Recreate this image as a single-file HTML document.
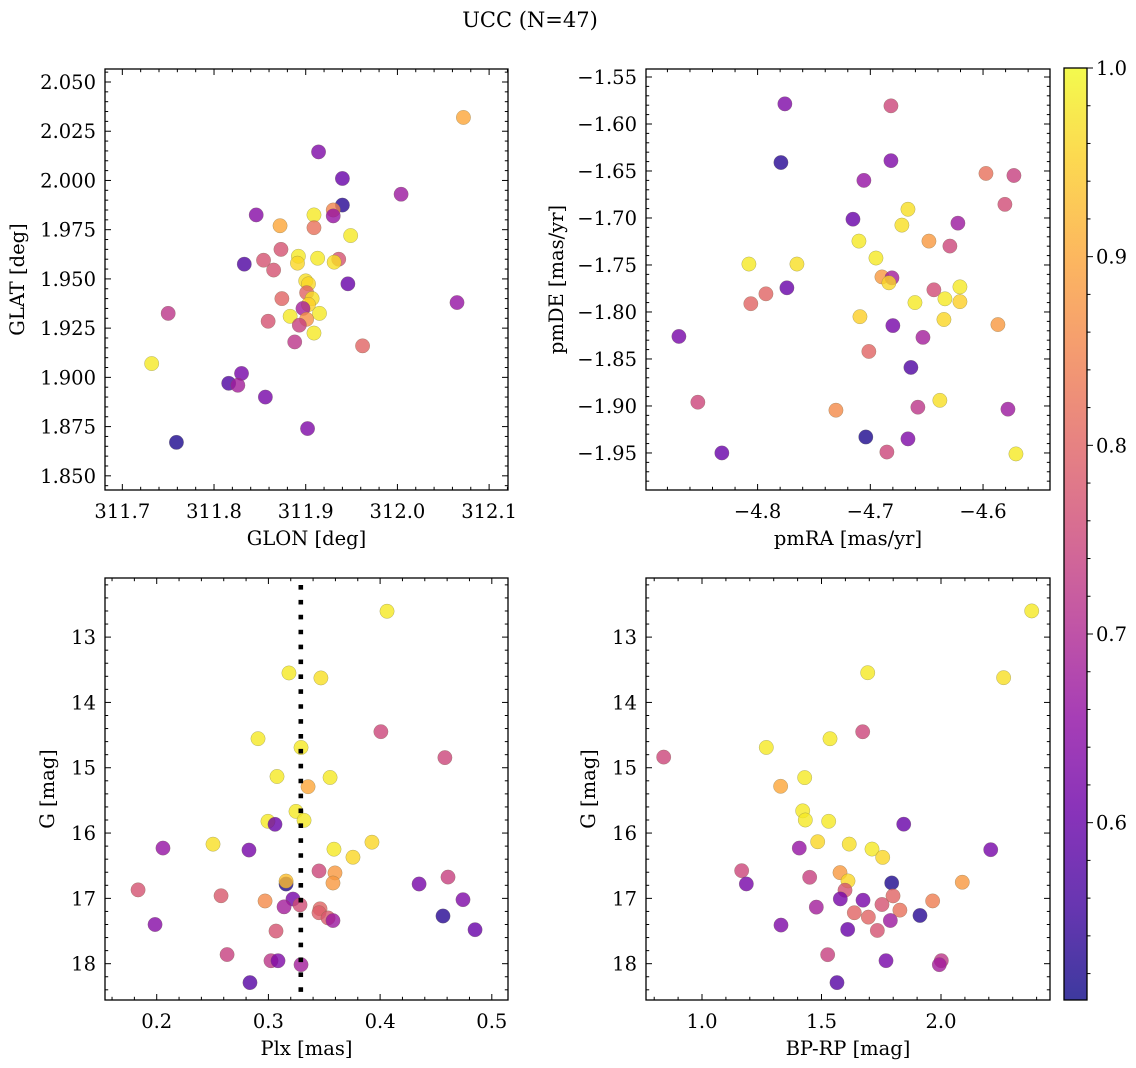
<!DOCTYPE html>
<html>
<head>
<meta charset="utf-8">
<style>
  html, body { margin: 0; padding: 0; background: #fff; }
  svg { display: block; font-family: "DejaVu Serif", "Liberation Serif", serif; }
</style>
</head>
<body>
<svg id="fig" width="1136" height="1068" viewBox="0 0 1136 1068" xmlns="http://www.w3.org/2000/svg">
  <defs>
    <linearGradient id="plasmaGrad" x1="0" y1="1" x2="0" y2="0"></linearGradient>
  </defs>
  <text x="530" y="27" text-anchor="middle" font-size="21">UCC (N=47)</text>
  <g id="panels"></g>
  <g id="cbar"></g>
</svg>
<script>
// ---------- Panel 1: GLON vs GLAT ----------
const glon = [312.072,311.914,311.940,312.004,311.940,311.930,311.930,311.846,311.909,311.872,311.909,311.949,311.873,311.892,311.913,311.936,311.854,311.833,311.891,311.931,311.865,311.946,311.900,311.903,312.065,311.901,311.874,311.907,311.903,311.897,311.750,311.883,311.915,311.901,311.859,311.893,311.909,311.962,311.888,311.732,311.830,311.816,311.826,311.856,311.902,311.759];
const glat = [2.032,2.0145,2.001,1.993,1.9875,1.985,1.982,1.9825,1.9825,1.977,1.976,1.972,1.965,1.9615,1.9605,1.960,1.9595,1.9575,1.958,1.9585,1.9545,1.9475,1.949,1.9475,1.938,1.943,1.940,1.940,1.937,1.935,1.9325,1.931,1.9325,1.9295,1.9285,1.9265,1.9225,1.916,1.918,1.907,1.902,1.897,1.896,1.890,1.874,1.867];
const prob1 = [0.90,0.63,0.60,0.67,0.53,0.85,0.66,0.64,0.98,0.90,0.82,0.98,0.77,0.98,0.98,0.77,0.77,0.57,0.96,0.97,0.77,0.60,0.97,0.96,0.66,0.80,0.80,0.97,0.95,0.68,0.72,0.98,0.98,0.87,0.77,0.74,0.98,0.80,0.72,0.98,0.62,0.57,0.68,0.62,0.63,0.52];
const p1XTicks = [311.7,311.8,311.9,312.0,312.1];
const p1YTicks = [1.850,1.875,1.900,1.925,1.950,1.975,2.000,2.025,2.050];

// ---------- Panel 2: pmRA vs pmDE ----------
const pmra = [-4.7758,-4.6817,-4.7793,-4.6817,-4.5974,-4.5726,-4.7057,-4.5806,-4.6666,-4.7154,-4.6223,-4.672,-4.7101,-4.648,-4.6294,-4.695,-4.8077,-4.7651,-4.6897,-4.6808,-4.6835,-4.6205,-4.774,-4.6436,-4.7926,-4.6338,-4.6205,-4.806,-4.6604,-4.7092,-4.6347,-4.5868,-4.68,-4.8698,-4.6533,-4.7013,-4.664,-4.853,-4.6383,-4.7305,-4.6578,-4.5779,-4.704,-4.6666,-4.8317,-4.6853,-4.5708];
const pmde = [-1.5786,-1.5807,-1.641,-1.639,-1.6526,-1.6548,-1.660,-1.6855,-1.6907,-1.7013,-1.7055,-1.7076,-1.7246,-1.7246,-1.7299,-1.7426,-1.749,-1.749,-1.7627,-1.7637,-1.769,-1.7733,-1.7743,-1.7764,-1.7807,-1.786,-1.789,-1.7912,-1.790,-1.805,-1.808,-1.8134,-1.8145,-1.826,-1.827,-1.842,-1.859,-1.896,-1.894,-1.9045,-1.9013,-1.9034,-1.933,-1.935,-1.950,-1.949,-1.951];
const prob2 = [0.63,0.75,0.53,0.63,0.82,0.74,0.66,0.76,0.97,0.60,0.67,0.97,0.98,0.88,0.75,0.98,0.98,0.97,0.88,0.68,0.96,0.98,0.60,0.76,0.80,0.98,0.95,0.80,0.98,0.95,0.96,0.88,0.62,0.62,0.68,0.80,0.57,0.75,0.97,0.86,0.72,0.67,0.52,0.63,0.60,0.75,0.98];
const p2XTicks = [-4.8,-4.7,-4.6];
const p2YTicks = [-1.95,-1.90,-1.85,-1.80,-1.75,-1.70,-1.65,-1.60,-1.55];

// ---------- Panel 3: Plx vs G ----------
const plx = [0.4062,0.3184,0.347,0.4007,0.2907,0.3292,0.458,0.3077,0.3552,0.3355,0.3247,0.2996,0.3059,0.3319,0.2056,0.2504,0.2826,0.3587,0.3927,0.3757,0.3453,0.3596,0.4608,0.3578,0.3158,0.3158,0.4349,0.1833,0.2576,0.297,0.4742,0.322,0.3283,0.314,0.3462,0.3453,0.3534,0.3578,0.4563,0.1985,0.485,0.3068,0.263,0.3023,0.3086,0.3292,0.2835];
const gmag3 = [12.604,13.549,13.625,14.448,14.555,14.69,14.845,15.134,15.149,15.29,15.668,15.82,15.866,15.805,16.23,16.17,16.26,16.247,16.14,16.37,16.58,16.61,16.674,16.765,16.78,16.735,16.78,16.87,16.96,17.04,17.02,17.01,17.1,17.13,17.16,17.22,17.3,17.34,17.27,17.4,17.48,17.5,17.86,17.955,17.955,18.015,18.29];
const prob3 = [0.98,0.98,0.97,0.75,0.98,0.98,0.75,0.98,0.98,0.90,0.98,0.98,0.60,0.98,0.66,0.97,0.62,0.98,0.96,0.96,0.75,0.88,0.74,0.88,0.52,0.93,0.62,0.77,0.78,0.86,0.63,0.62,0.76,0.68,0.80,0.79,0.78,0.67,0.53,0.64,0.60,0.77,0.74,0.72,0.63,0.68,0.58];
const plxMean = [0.329];
const p3XTicks = [0.2,0.3,0.4,0.5];
const gTicks = [13,14,15,16,17,18];

// ---------- Panel 4: BP-RP vs G ----------
const bprp = [2.3795,1.6933,2.262,1.6723,1.269,1.5356,0.8397,1.4296,1.329,1.4213,1.4322,1.53,1.844,1.407,1.484,1.616,1.7113,1.756,2.208,1.166,1.5774,1.4505,1.6109,1.7937,2.089,1.1855,1.5983,1.7992,1.5787,1.6737,1.965,1.753,1.4783,1.828,1.6373,1.696,1.788,1.912,1.3305,1.6095,1.7336,1.5258,1.7699,2.0013,1.9929,1.5648];
const gmag4 = [12.599,13.545,13.621,14.449,14.689,14.556,14.837,15.151,15.284,15.66,15.80,15.82,15.864,16.23,16.133,16.169,16.245,16.372,16.255,16.576,16.606,16.677,16.733,16.764,16.753,16.779,16.875,16.962,17.008,17.028,17.039,17.094,17.134,17.18,17.22,17.287,17.339,17.262,17.409,17.476,17.491,17.862,17.954,17.954,18.015,18.29];
const prob4 = [0.98,0.98,0.97,0.75,0.98,0.98,0.75,0.98,0.90,0.98,0.98,0.98,0.60,0.66,0.96,0.97,0.98,0.96,0.62,0.75,0.88,0.74,0.96,0.52,0.88,0.62,0.77,0.80,0.62,0.62,0.84,0.77,0.68,0.82,0.80,0.80,0.67,0.53,0.63,0.60,0.77,0.74,0.62,0.72,0.68,0.58];
const p4XTicks = [1.0,1.5,2.0];

// ---------- Colorbar ----------
const cbarTicks = [0.6,0.7,0.8,0.9,1.0];
const cMin = [0.506];
const cMax = [1.0];

const FS = 19.5;
const SVGNS = "http://www.w3.org/2000/svg";
const plasmaStops = [[0,"#0d0887"],[0.1,"#41049d"],[0.2,"#6a00a8"],[0.3,"#8f0da4"],[0.4,"#b12a90"],[0.5,"#cc4778"],[0.6,"#e16462"],[0.7,"#f2844b"],[0.8,"#fca636"],[0.9,"#fcce25"],[1.0,"#f0f921"]];
function hex2rgb(h){return [parseInt(h.substr(1,2),16),parseInt(h.substr(3,2),16),parseInt(h.substr(5,2),16)];}
function plasma(t){
  t=Math.max(0,Math.min(1,t));
  for(let i=0;i<plasmaStops.length-1;i++){
    const [t0,c0]=plasmaStops[i],[t1,c1]=plasmaStops[i+1];
    if(t<=t1){const f=(t-t0)/(t1-t0);const a=hex2rgb(c0),b=hex2rgb(c1);
      return "rgb("+a.map((v,k)=>Math.round(v+(b[k]-v)*f)).join(",")+")";}
  }
  return plasmaStops[plasmaStops.length-1][1];
}
function colorOf(v){return plasma((v-cMin[0])/(cMax[0]-cMin[0]));}
function mk(tag,attrs,parent){const e=document.createElementNS(SVGNS,tag);for(const k in attrs)e.setAttribute(k,attrs[k]);parent.appendChild(e);return e;}
function fmt(v,d){const s=Math.abs(v).toFixed(d);return (v<-1e-12?"\u2212":"")+s;}

function drawPanel(p){
  const root=document.getElementById("panels");
  const g=mk("g",{},root);
  
  
  const sx=v=>p.L+(v-p.x0)/(p.x1-p.x0)*(p.R-p.L);
  const sy=v=>p.T+(v-p.y0)/(p.y1-p.y0)*(p.B-p.T);
  const clip=mk("clipPath",{id:"clip-"+p.name},g);
  mk("rect",{x:p.L,y:p.T,width:p.R-p.L,height:p.B-p.T},clip);
  const marks=mk("g",{"clip-path":"url(#clip-"+p.name+")"},g);
  for(let i=0;i<p.xs.length;i++){
    const c=mk("circle",{cx:sx(p.xs[i]),cy:sy(p.ys[i]),r:7.2,fill:colorOf(p.cs[i]),"fill-opacity":0.8,stroke:"#6b6b4a","stroke-opacity":0.5,"stroke-width":0.5},marks);
    
    
  }
  if(p.vline){
    const l=mk("line",{x1:sx(p.vline[0]),x2:sx(p.vline[0]),y1:p.T+7,y2:p.B,stroke:"#000","stroke-width":4.6,"stroke-dasharray":"4.6 10.3"},marks);
    
    
  }
  const tk=mk("g",{stroke:"#000","stroke-width":1},g);
  const xmin=Math.min(p.x0,p.x1),xmax=Math.max(p.x0,p.x1);
  const ymin=Math.min(p.y0,p.y1),ymax=Math.max(p.y0,p.y1);
  for(let k=Math.ceil(xmin/p.xMinor-1e-6);k*p.xMinor<=xmax+1e-9;k++){
    const v=k*p.xMinor,x=sx(v);
    const major=p.xTicks.some(t=>Math.abs(t-v)<p.xMinor/10);
    const len=major?6:3.2;
    mk("line",{x1:x,x2:x,y1:p.B,y2:p.B-len},tk);
    mk("line",{x1:x,x2:x,y1:p.T,y2:p.T+len},tk);
  }
  for(let k=Math.ceil(ymin/p.yMinor-1e-6);k*p.yMinor<=ymax+1e-9;k++){
    const v=k*p.yMinor,y=sy(v);
    const major=p.yTicks.some(t=>Math.abs(t-v)<p.yMinor/10);
    const len=major?6:3.2;
    mk("line",{x1:p.L,x2:p.L+len,y1:y,y2:y},tk);
    mk("line",{x1:p.R,x2:p.R-len,y1:y,y2:y},tk);
  }
  p.xTicks.forEach(t=>{
    const e=mk("text",{x:sx(t),y:p.B+28,"text-anchor":"middle","font-size":FS},g);
    e.textContent=fmt(t,p.xd);
    
    
  });
  p.yTicks.forEach(t=>{
    const e=mk("text",{x:p.L-9,y:sy(t)+7,"text-anchor":"end","font-size":FS},g);
    e.textContent=fmt(t,p.yd);
    
    
  });
  const fr=mk("rect",{x:p.L,y:p.T,width:p.R-p.L,height:p.B-p.T,fill:"none",stroke:"#000","stroke-width":1.3},g);
  
  
  const xl=mk("text",{x:(p.L+p.R)/2,y:p.B+55,"text-anchor":"middle","font-size":FS},g);
  xl.textContent=p.xlabel;
  
  
  const yl=mk("text",{x:0,y:0,"text-anchor":"middle","font-size":FS,transform:"translate("+p.ylx+","+((p.T+p.B)/2)+") rotate(-90)"},g);
  yl.textContent=p.ylabel;
  
  
}

drawPanel({name:"panel-glon-glat",L:105,R:508,T:69,B:490,x0:311.6811,x1:312.1206,y0:2.0566,y1:1.8428,
  xs:glon,ys:glat,cs:prob1,xTicks:p1XTicks,yTicks:p1YTicks,xMinor:0.02,yMinor:0.005,xd:1,yd:3,
  xlabel:"GLON [deg]",ylabel:"GLAT [deg]",ylx:24});
drawPanel({name:"panel-pm",L:646,R:1050,T:69,B:490,x0:-4.899,x1:-4.5406,y0:-1.5415,y1:-1.9894,
  xs:pmra,ys:pmde,cs:prob2,xTicks:p2XTicks,yTicks:p2YTicks,xMinor:0.02,yMinor:0.01,xd:1,yd:2,
  xlabel:"pmRA [mas/yr]",ylabel:"pmDE [mas/yr]",ylx:563});
drawPanel({name:"panel-plx-g",L:105,R:508,T:578,B:1000,x0:0.1537,x1:0.5145,y0:12.095,y1:18.556,
  xs:plx,ys:gmag3,cs:prob3,xTicks:p3XTicks,yTicks:gTicks,xMinor:0.02,yMinor:0.2,xd:1,yd:0,
  xlabel:"Plx [mas]",ylabel:"G [mag]",ylx:54,vline:plxMean});
drawPanel({name:"panel-cmd",L:646,R:1050,T:578,B:1000,x0:0.7657,x1:2.456,y0:12.095,y1:18.556,
  xs:bprp,ys:gmag4,cs:prob4,xTicks:p4XTicks,yTicks:gTicks,xMinor:0.1,yMinor:0.2,xd:1,yd:0,
  xlabel:"BP-RP [mag]",ylabel:"G [mag]",ylx:595});

(function(){
  const grad=document.getElementById("plasmaGrad");
  for(let i=0;i<=20;i++){mk("stop",{offset:(i/20),"stop-color":plasma(i/20),"stop-opacity":0.8},grad);}
  const cb=document.getElementById("cbar");
  const L=1064,R=1087,T=68,B=1000;
  const cy=v=>B-(v-cMin[0])/(cMax[0]-cMin[0])*(B-T);
  const r=mk("rect",{x:L,y:T,width:R-L,height:B-T,fill:"url(#plasmaGrad)"},cb);
  
  
  const tk=mk("g",{stroke:"#000","stroke-width":1},cb);
  for(let k=Math.ceil(cMin[0]/0.02-1e-6);k*0.02<=cMax[0]+1e-9;k++){
    const v=k*0.02,y=cy(v);
    const major=cbarTicks.some(t=>Math.abs(t-v)<0.002);
    mk("line",{x1:R,x2:R+(major?6:3.5),y1:y,y2:y},tk);
  }
  cbarTicks.forEach(t=>{
    const e=mk("text",{x:R+9,y:cy(t)+7,"font-size":FS},cb);
    e.textContent=t.toFixed(1);
    
    
  });
  mk("rect",{x:L,y:T,width:R-L,height:B-T,fill:"none",stroke:"#000","stroke-width":1.3},cb);
})();
</script>
</body>
</html>
